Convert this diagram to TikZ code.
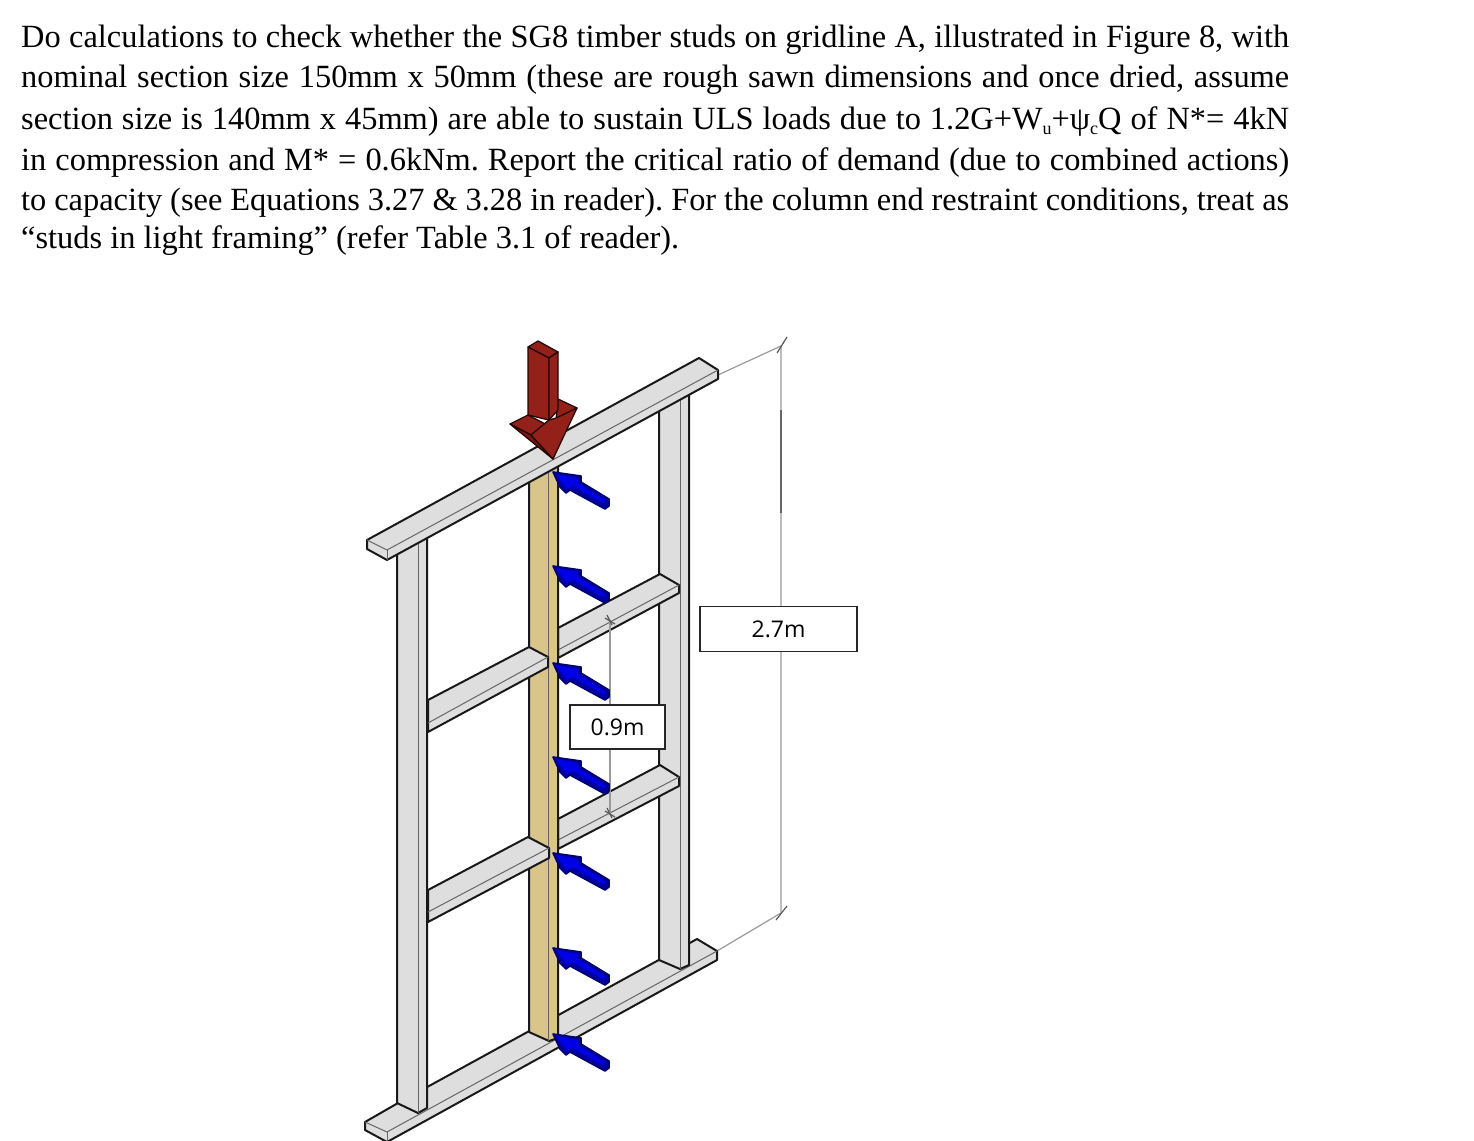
\documentclass[tikz,border=0pt]{standalone}
\usepackage{fontspec}
\setmainfont{Liberation Serif}
\newfontfamily\labelfont{Open Sans}
\definecolor{timbergrey}{HTML}{DEDEDE}
\definecolor{timbertan}{HTML}{D9C48A}
\definecolor{redlight}{HTML}{93211A}
\definecolor{reddark}{HTML}{7A1610}
\definecolor{bluelight}{HTML}{0000E6}
\definecolor{bluedark}{HTML}{0000A0}
\definecolor{dimgrey}{HTML}{9A9A9A}
\newcommand{\lowsub}[1]{\raisebox{-0.18em}{\fontsize{18}{18}\selectfont #1}}
\tikzset{
  member/.style={fill=timbergrey,draw=black!90,line width=2pt,line join=round},
  stud/.style={member,fill=timbertan},
  crease/.style={draw=black!60,line width=1pt},
  redface/.style={fill=redlight,draw=black!70!reddark,line width=1.3pt,line join=round},
  reddeep/.style={redface,fill=reddark},
  dimline/.style={draw=dimgrey,line width=1.2pt},
  dimtick/.style={draw=black!65,line width=1.2pt},
  valuebox/.style={draw=black!85,fill=white,line width=1.2pt,minimum height=45pt,inner sep=0pt,font=\labelfont\fontsize{23}{26}\selectfont},
  textline/.style={anchor=base west,inner sep=0pt,font=\fontsize{32.4}{38}\selectfont\frenchspacing},
  bluebody/.pic={
    \fill[bluedark,draw=black!30!bluedark,line width=1.6pt,line join=round]
      (0,0)--(28,4)--(28,10)--(56,27)--(56,34)--(52,37)--(17,18)--(13,21)--(7,15)--cycle;
    \fill[bluelight] (3,2)--(25,6)--(25,11)--(53,29)--(50,31)--(20,14)--(14,17)--cycle;
  }
}
\begin{document}
\begin{tikzpicture}[x=1pt,y=-1pt]
\path[use as bounding box] (0,0) rectangle (1474,1140);
% question text
\node[textline] (l1) at (21,48) {\hbox to 1268pt{Do calculations to check whether the SG8 timber studs on gridline A, illustrated in Figure 8, with}};
\node[textline] (l2) at (21,87) {\hbox to 1268pt{nominal section size 150mm x 50mm (these are rough sawn dimensions and once dried, assume}};
\node[textline] (l3) at (21,129) {\hbox to 1268pt{section size is 140mm x 45mm) are able to sustain ULS loads due to 1.2G+W\lowsub{u}+ψ\lowsub{c}Q of N*= 4kN}};
\node[textline] (l4) at (21,170) {\hbox to 1268pt{in compression and M* = 0.6kNm. Report the critical ratio of demand (due to combined actions)}};
\node[textline] (l5) at (21,210) {\hbox to 1268pt{to capacity (see Equations 3.27 \& 3.28 in reader). For the column end restraint conditions, treat as}};
\node[textline] (l6) at (21,248) {“studs in light framing” (refer Table 3.1 of reader).};
% dimension line 2.7m
\coordinate (dimTop) at (781,346);
\coordinate (dimBot) at (781,913);
\draw[dimline] (718,375) -- (dimTop) -- (dimBot) -- (717,951);
\draw[dimtick] (777,353) -- (787,337);
\draw[dimtick] (776,920) -- (787,906);
\draw[draw=black!60,line width=1.2pt] (781,410) -- (781,513);
% bottom plate
\draw[member] (365,1122) -- (398,1103) -- (697,939) -- (717,951) -- (717,960) -- (387,1142) -- (365,1130) -- cycle;
\draw[crease] (365,1122) -- (387,1132) -- (717,951);
\draw[crease] (387,1132) -- (387,1142);
% left and right studs
\draw[member] (397,530) -- (397,1103) -- (418,1113) -- (427,1108) -- (427,530);
\draw[crease] (418,530) -- (418,1113);
\draw[member] (659,385) -- (659,960) -- (680,969) -- (689,965) -- (689,385);
\draw[crease] (680,385) -- (680,969);
% right noggings
\draw[member] (558,628) -- (660,574) -- (679,585) -- (679,593) -- (558,658) -- cycle;
\draw[crease] (558,650) -- (679,585);
\draw[member] (558,819) -- (660,765) -- (679,777) -- (679,786) -- (558,849) -- cycle;
\draw[crease] (558,840) -- (679,777);
% centre stud
\draw[stud] (529,465) -- (529,1032) -- (549,1041) -- (558,1038) -- (558,455);
\draw[crease] (548,465) -- (548,1041);
% left noggings
\draw[member] (428,700) -- (529,647) -- (548,657) -- (548,667) -- (428,732) -- cycle;
\draw[crease] (428,723) -- (548,657);
\draw[member] (428,890) -- (528,837) -- (549,848) -- (549,858) -- (428,922) -- cycle;
\draw[crease] (428,912) -- (549,848);
% top plate
\draw[member] (367,540) -- (699,358) -- (718,370) -- (718,379) -- (387,560) -- (367,549) -- cycle;
\draw[crease] (367,540) -- (387,550) -- (718,370);
\draw[crease] (387,550) -- (387,560);
% 0.9m dimension
\coordinate (nineTop) at (610,620);
\coordinate (nineBot) at (610,813);
\draw[dimline] (nineTop) -- (nineBot);
\draw[dimtick] (605,618) -- (615,624);
\draw[dimtick] (605,811) -- (615,817);
\draw[dimtick] (607,615) -- (612,625);
\draw[dimtick] (607,808) -- (612,818);
% red load arrow
\draw[redface] (528,347) -- (538,341) -- (558,352) -- (549,358) -- cycle;
\draw[redface] (558,399) -- (577,408) -- (556,420) -- cycle;
\draw[redface] (528,347) -- (549,358) -- (549,420) -- (528,415) -- cycle;
\draw[redface] (549,358) -- (558,352) -- (558,410) -- (549,420) -- cycle;
\draw[redface] (510,424) -- (528,415) -- (549,426) -- (531,435) -- cycle;
\draw[reddeep] (510,424) -- (531,435) -- (553,459) -- cycle;
\draw[redface] (531,435) -- (549,420) -- (556,418) -- (577,408) -- (553,459) -- cycle;
% blue arrows
\foreach \tipy in {472,566,663,757,853,948,1034}
  \pic at (553,\tipy) {bluebody};
% value boxes
\node[valuebox,minimum width=157pt] (big) at (778.5,629) {2.7m};
\node[valuebox,minimum width=95pt,minimum height=44pt] (small) at (617.5,727) {0.9m};
\end{tikzpicture}
\end{document}
